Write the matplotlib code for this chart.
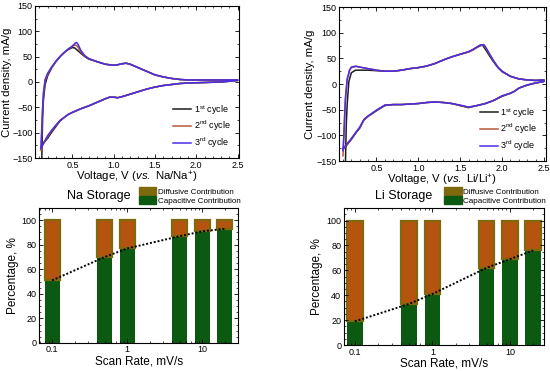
import matplotlib

matplotlib.use("Agg")
import matplotlib.pyplot as plt
from matplotlib.patches import Patch
from matplotlib.ticker import MultipleLocator, LogLocator, NullFormatter

plt.rcParams["font.family"] = "Liberation Sans"
plt.rcParams["mathtext.fontset"] = "custom"
plt.rcParams["mathtext.rm"] = "Liberation Sans"
plt.rcParams["mathtext.it"] = "Liberation Sans:italic"

# ---- CV data, Na cell (voltage V, current density mA/g), anodic then cathodic ----
na_v1 = [0.13, 0.135, 0.14, 0.15, 0.17, 0.2, 0.25, 0.3, 0.35, 0.4, 0.45, 0.5, 0.53, 0.55, 0.6, 0.65, 0.7,
         0.8, 0.9, 1.0, 1.05, 1.1, 1.15, 1.2, 1.3, 1.4, 1.5, 1.6, 1.7, 1.8, 1.9, 2.0, 2.2, 2.4, 2.5,
         2.5, 2.3, 2.1, 1.9, 1.8, 1.7, 1.6, 1.5, 1.4, 1.3, 1.2, 1.1, 1.05, 1.0, 0.95, 0.9, 0.8, 0.7,
         0.6, 0.5, 0.45, 0.4, 0.35, 0.3, 0.25, 0.2, 0.17, 0.15, 0.135, 0.13]
na_i1 = [-150, -110, -70, -35, -5, 12, 28, 40, 50, 58, 64, 68, 67, 64, 57, 50, 45,
         40, 35, 33, 34, 36, 37, 35, 28, 21, 14, 10, 7, 5, 4, 4, 4, 4, 4,
         3, 0, -1, -2, -3, -5, -7, -10, -14, -19, -24, -29, -31, -30, -30, -33, -40, -47,
         -53, -60, -64, -70, -77, -88, -99, -111, -117, -121, -124, -126]
na_v2 = [0.12, 0.13, 0.14, 0.15, 0.17, 0.2, 0.25, 0.3, 0.35, 0.4, 0.45, 0.5, 0.53, 0.55, 0.57, 0.6, 0.65, 0.7,
         0.8, 0.9, 1.0, 1.05, 1.1, 1.15, 1.2, 1.3, 1.4, 1.5, 1.6, 1.7, 1.8, 1.9, 2.0, 2.2, 2.4, 2.5,
         2.5, 2.3, 2.1, 1.9, 1.8, 1.7, 1.6, 1.5, 1.4, 1.3, 1.2, 1.1, 1.05, 1.0, 0.95, 0.9, 0.8, 0.7,
         0.6, 0.5, 0.45, 0.4, 0.35, 0.3, 0.25, 0.2, 0.17, 0.15, 0.13, 0.12]
na_i2 = [-135, -95, -55, -25, 2, 15, 29, 40, 50, 58, 65, 70, 73, 72, 68, 60, 51, 46,
         40, 35, 33, 34, 36, 37, 35, 28, 21, 14, 10, 7, 5, 4, 4, 4, 4, 4,
         3, 0, -1, -2, -3, -5, -7, -10, -14, -19, -24, -29, -31, -30, -30, -33, -40, -47,
         -53, -60, -64, -70, -76, -86, -96, -108, -116, -121, -128, -132]
na_v3 = [0.12, 0.13, 0.14, 0.15, 0.17, 0.2, 0.25, 0.3, 0.35, 0.4, 0.45, 0.5, 0.53, 0.55, 0.57, 0.6, 0.65, 0.7,
         0.8, 0.9, 1.0, 1.05, 1.1, 1.15, 1.2, 1.3, 1.4, 1.5, 1.6, 1.7, 1.8, 1.9, 2.0, 2.2, 2.4, 2.5,
         2.5, 2.3, 2.1, 1.9, 1.8, 1.7, 1.6, 1.5, 1.4, 1.3, 1.2, 1.1, 1.05, 1.0, 0.95, 0.9, 0.8, 0.7,
         0.6, 0.5, 0.45, 0.4, 0.35, 0.3, 0.25, 0.2, 0.17, 0.15, 0.13, 0.12]
na_i3 = [-130, -90, -50, -20, 5, 17, 30, 41, 50, 58, 65, 71, 76, 78, 74, 63, 52, 46,
         40, 35, 33, 34, 36, 37, 35, 28, 21, 14, 10, 7, 5, 4, 4, 4, 4, 4,
         3, 0, -1, -2, -3, -5, -7, -10, -14, -19, -24, -29, -31, -30, -30, -33, -40, -47,
         -53, -60, -64, -70, -76, -85, -95, -106, -115, -121, -128, -130]

# ---- CV data, Li cell ----
li_v1 = [0.13, 0.135, 0.14, 0.15, 0.17, 0.2, 0.25, 0.3, 0.4, 0.5, 0.6, 0.7, 0.8, 0.9, 1.0, 1.1, 1.2,
         1.3, 1.4, 1.5, 1.6, 1.65, 1.7, 1.74, 1.77, 1.8, 1.85, 1.9, 1.95, 2.0, 2.1, 2.2, 2.3, 2.4, 2.5,
         2.5, 2.4, 2.3, 2.2, 2.15, 2.1, 2.0, 1.9, 1.8, 1.7, 1.6, 1.5, 1.4, 1.3, 1.2, 1.1, 1.0, 0.9,
         0.8, 0.7, 0.6, 0.5, 0.4, 0.35, 0.3, 0.25, 0.2, 0.15, 0.12]
li_i1 = [-150, -110, -75, -40, 5, 22, 27, 27, 27, 26, 25, 25, 27, 30, 32, 35, 40,
         47, 53, 58, 63, 67, 72, 76, 75, 68, 55, 43, 32, 24, 15, 10, 8, 7, 8,
         5, 2, -2, -8, -14, -18, -24, -32, -38, -42, -46, -42, -38, -36, -35, -36, -38, -39,
         -40, -40, -42, -52, -63, -70, -86, -96, -108, -118, -125]
li_v2 = [0.1, 0.11, 0.12, 0.13, 0.15, 0.18, 0.2, 0.25, 0.3, 0.4, 0.5, 0.6, 0.7, 0.8, 0.9, 1.0, 1.1, 1.2,
         1.3, 1.4, 1.5, 1.6, 1.65, 1.7, 1.75, 1.78, 1.8, 1.85, 1.9, 1.95, 2.0, 2.1, 2.2, 2.3, 2.4, 2.5,
         2.5, 2.4, 2.3, 2.2, 2.15, 2.1, 2.0, 1.9, 1.8, 1.7, 1.6, 1.5, 1.4, 1.3, 1.2, 1.1, 1.0, 0.9,
         0.8, 0.7, 0.6, 0.5, 0.4, 0.35, 0.3, 0.25, 0.2, 0.15, 0.1]
li_i2 = [-140, -105, -65, -30, 8, 27, 32, 34, 33, 30, 27, 25, 25, 27, 30, 32, 35, 40,
         47, 53, 58, 62, 66, 71, 75, 76, 72, 58, 45, 33, 25, 15, 10, 8, 7, 8,
         5, 2, -2, -8, -14, -18, -23, -32, -38, -42, -45, -42, -38, -36, -35, -36, -38, -39,
         -40, -40, -41, -51, -63, -70, -85, -95, -107, -117, -128]
li_v3 = [0.1, 0.11, 0.12, 0.13, 0.15, 0.18, 0.2, 0.25, 0.3, 0.4, 0.5, 0.6, 0.7, 0.8, 0.9, 1.0, 1.1, 1.2,
         1.3, 1.4, 1.5, 1.6, 1.65, 1.7, 1.75, 1.78, 1.8, 1.85, 1.9, 1.95, 2.0, 2.1, 2.2, 2.3, 2.4, 2.5,
         2.5, 2.4, 2.3, 2.2, 2.15, 2.1, 2.0, 1.9, 1.8, 1.7, 1.6, 1.5, 1.4, 1.3, 1.2, 1.1, 1.0, 0.9,
         0.8, 0.7, 0.6, 0.5, 0.4, 0.35, 0.3, 0.25, 0.2, 0.15, 0.1]
li_i3 = [-130, -100, -60, -25, 10, 28, 33, 35, 33, 30, 27, 25, 25, 27, 30, 32, 35, 40,
         47, 53, 58, 63, 67, 72, 76, 77, 73, 59, 45, 33, 25, 15, 10, 8, 7, 8,
         5, 2, -2, -8, -14, -18, -23, -32, -38, -42, -45, -41, -38, -36, -35, -36, -38, -39,
         -40, -40, -41, -51, -62, -69, -84, -95, -106, -116, -126]

cycle_labels = ["1$^{\\mathrm{st}}$ cycle", "2$^{\\mathrm{nd}}$ cycle", "3$^{\\mathrm{rd}}$ cycle"]
cycle_colors = ["#1c1c1c", "#b8583a", "#4a2ee6"]

# ---- capacitive contribution vs scan rate ----
scan_rates = [0.1, 0.5, 1, 5, 10, 20]
na_capacitive = [51, 70, 77, 87, 91, 93]
li_capacitive = [19, 33, 41, 62, 69, 76]

OLIVE = "#7e6a0c"
ORANGE = "#b4540f"
GREEN = "#0c5a12"


def style_axes(ax):
    ax.tick_params(which="both", direction="in", top=True, right=True, labelsize=6.5, pad=1.8)
    ax.tick_params(which="major", length=3, width=0.6)
    ax.tick_params(which="minor", length=1.6, width=0.5)
    for s in ax.spines.values():
        s.set_linewidth(0.8)


def draw_cv(ax, curves, xlab):
    for (v, i), lab, col in zip(curves, cycle_labels, cycle_colors):
        ax.plot(v, i, color=col, lw=1.1, label=lab)
    ax.set_xlim(0.05, 2.52)
    ax.set_ylim(-150, 150)
    ax.xaxis.set_minor_locator(MultipleLocator(0.1))
    ax.yaxis.set_major_locator(MultipleLocator(50))
    ax.yaxis.set_minor_locator(MultipleLocator(25))
    ax.set_xticks([0.5, 1.0, 1.5, 2.0, 2.5])
    ax.set_xlabel(xlab, fontsize=8.2, labelpad=0.5)
    ax.set_ylabel("Current density, mA/g", fontsize=8.2, labelpad=0.5)
    style_axes(ax)
    ax.legend(loc="lower right", bbox_to_anchor=(1.0, 0.0), frameon=False, fontsize=6.5,
              handlelength=2.0, handletextpad=0.3, labelspacing=0.25)


def draw_bars(ax, cap, title, xlim):
    lefts = [r / 1.26 for r in scan_rates]
    widths = [r * 1.26 - r / 1.26 for r in scan_rates]
    diff = [100 - c for c in cap]
    ax.bar(lefts, cap, width=widths, align="edge", color=GREEN, lw=0)
    ax.bar(lefts, diff, width=widths, bottom=cap, align="edge", facecolor=ORANGE,
           edgecolor=OLIVE, lw=1.6)
    ax.plot(scan_rates, cap, color="black", lw=1.4, ls=(0, (1, 1)))
    ax.set_xscale("log")
    ax.set_xlim(*xlim)
    ax.set_ylim(0, 110)
    ax.set_xticks([0.1, 1, 10])
    ax.set_xticklabels(["0.1", "1", "10"])
    ax.xaxis.set_minor_locator(LogLocator(base=10, subs=range(2, 10)))
    ax.xaxis.set_minor_formatter(NullFormatter())
    ax.yaxis.set_major_locator(MultipleLocator(20))
    ax.yaxis.set_minor_locator(MultipleLocator(5))
    ax.set_xlabel("Scan Rate, mV/s", fontsize=8.5, labelpad=1)
    ax.set_ylabel("Percentage, %", fontsize=8.5, labelpad=2)
    style_axes(ax)
    ax.text(0.3, 1.085, title, transform=ax.transAxes, ha="center", va="center", fontsize=9)
    handles = [Patch(facecolor=OLIVE, edgecolor=OLIVE), Patch(facecolor=GREEN, edgecolor=GREEN)]
    ax.legend(handles, ["Diffusive Contribution", "Capacitive Contribution"], loc="lower left",
              bbox_to_anchor=(0.48, 0.995), frameon=False, fontsize=5.8, borderpad=0,
              handlelength=2.2, handleheight=1.1, handletextpad=0.2, labelspacing=0.05)


fig = plt.figure(figsize=(5.5, 3.71), dpi=100)
ax_na_cv = fig.add_axes([0.064, 0.574, 0.371, 0.41])
ax_li_cv = fig.add_axes([0.616, 0.566, 0.376, 0.415])
ax_na_bar = fig.add_axes([0.071, 0.0755, 0.362, 0.364])
ax_li_bar = fig.add_axes([0.625, 0.070, 0.364, 0.369])

draw_cv(ax_na_cv, [(na_v1, na_i1), (na_v2, na_i2), (na_v3, na_i3)],
        "Voltage, V ($\\mathit{vs.}$ Na/Na$^{+}$)")
draw_cv(ax_li_cv, [(li_v1, li_i1), (li_v2, li_i2), (li_v3, li_i3)],
        "Voltage, V ($\\mathit{vs.}$ Li/Li$^{+}$)")
draw_bars(ax_na_bar, na_capacitive, "Na Storage", (0.067, 30))
draw_bars(ax_li_bar, li_capacitive, "Li Storage", (0.072, 27.5))

fig.savefig("out.png", dpi=100)
